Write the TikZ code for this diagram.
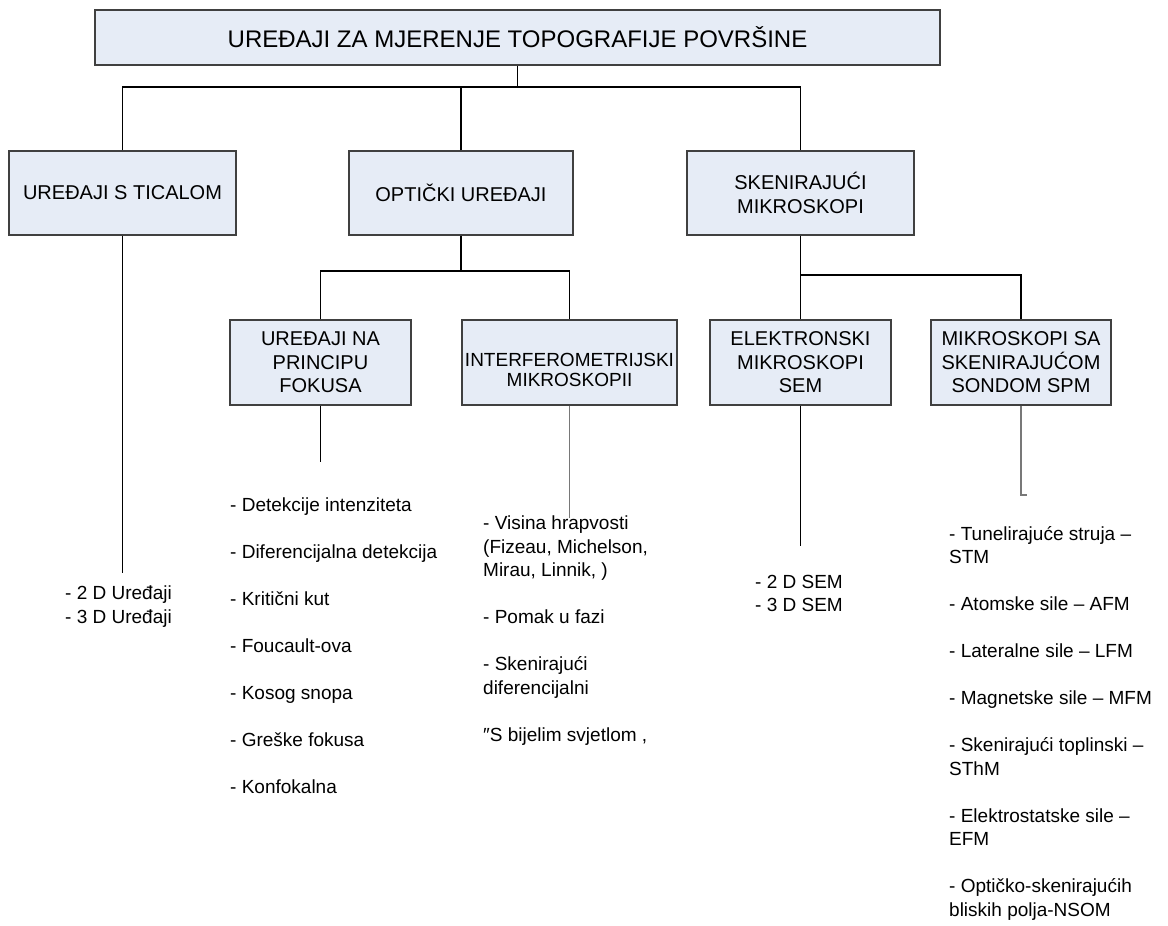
\documentclass[tikz,border=0pt]{standalone}
\usepackage{fontspec}
\setmainfont{Liberation Sans}
\definecolor{okvirfill}{RGB}{230,236,246}
\definecolor{okvirrub}{RGB}{64,64,64}
\definecolor{sivalinija}{RGB}{120,120,120}

\begin{document}
\begin{tikzpicture}[x=1pt,y=-1pt,
  okvir/.style={draw=okvirrub,fill=okvirfill,line width=1.3pt,align=center,inner sep=0pt,
    minimum height=84pt,font=\fontsize{20}{23.5}\selectfont},
  veza/.style={line width=1.2pt},
  sivaveza/.style={line width=1.3pt,draw=sivalinija},
  popis/.style={align=left,anchor=north west,inner sep=0pt,font=\fontsize{19}{23.5}\selectfont}]

\useasboundingbox (0,0) rectangle (1168,926);

% okviri
\node[okvir,minimum width=845pt,minimum height=55pt,font=\fontsize{24}{28}\selectfont] (naslov) at (517.5,37.5) {UREĐAJI ZA MJERENJE TOPOGRAFIJE POVRŠINE};

\node[okvir,minimum width=227pt] (ticalo) at (122.5,193) {UREĐAJI S TICALOM};
\node[okvir,minimum width=224pt] (optika) at (461,193) {OPTIČKI UREĐAJI};
\node[okvir,minimum width=227pt] (skener) at (800.5,193) {SKENIRAJUĆI\\MIKROSKOPI};

\node[okvir,minimum width=181pt,minimum height=85pt] (fokus) at (320.5,362.5) {UREĐAJI NA\\PRINCIPU\\FOKUSA};
\node[okvir,minimum width=215pt,minimum height=85pt,font=\fontsize{19}{20}\selectfont] (interf) at (569.5,362.5) {\rule{0pt}{28pt}INTERFEROMETRIJSKI\\MIKROSKOPII};
\node[okvir,minimum width=181pt,minimum height=85pt] (elektron) at (800.5,362.5) {ELEKTRONSKI\\MIKROSKOPI\\SEM};
\node[okvir,minimum width=180pt,minimum height=85pt] (spm) at (1021,362.5) {MIKROSKOPI SA\\SKENIRAJUĆOM\\SONDOM SPM};

% grananja
\coordinate (grana1) at (517.5,87);
\coordinate (grana2) at (461,271);
\coordinate (grana3) at (800.5,275);

\draw[veza] (naslov.south) -- (grana1);
\draw[veza] (ticalo.north) |- (grana1) -| (skener.north);
\draw[veza] (optika.north) -- (optika.north |- grana1);

\draw[veza] (optika.south) -- (grana2);
\draw[veza] (fokus.north) |- (grana2) -| (interf.north);

\draw[veza] (skener.south) -- (elektron.north);
\draw[veza] (grana3) -| (spm.north);

% krajevi
\coordinate (kraj1) at (122.5,573);
\coordinate (kraj2) at (320.5,462);
\coordinate (kraj3) at (569.5,518);
\coordinate (kraj4) at (800.5,546);
\coordinate (kraj5) at (1021,495);

\draw[veza] (ticalo.south) -- (kraj1);
\draw[veza] (fokus.south) -- (kraj2);
\draw[sivaveza] (interf.south) -- (kraj3);
\draw[veza] (elektron.south) -- (kraj4);
\draw[sivaveza] (spm.south) -- (kraj5) -- ++(6,0);

% popisi
\node[popis] (popis1) at (65,586) {- 2 D Uređaji\\- 3 D Uređaji};

\node[popis] (popis2) at (230,498) {- Detekcije intenziteta\\[23.5pt]
  - Diferencijalna detekcija\\[23.5pt]
  - Kritični kut\\[23.5pt]
  - Foucault-ova\\[23.5pt]
  - Kosog snopa\\[23.5pt]
  - Greške fokusa\\[23.5pt]
  - Konfokalna};

\node[popis] (popis3) at (483,516) {- Visina hrapvosti\\(Fizeau, Michelson,\\Mirau, Linnik, )\\[23.5pt]
  - Pomak u fazi\\[23.5pt]
  - Skenirajući\\diferencijalni\\[23.5pt]
  ″S bijelim svjetlom ,};

\node[popis] (popis4) at (755,575) {- 2 D SEM\\- 3 D SEM};

\node[popis] (popis5) at (949,526) {- Tunelirajuće struja –\\STM\\[23.5pt]
  - Atomske sile – AFM\\[23.5pt]
  - Lateralne sile – LFM\\[23.5pt]
  - Magnetske sile – MFM\\[23.5pt]
  - Skenirajući toplinski –\\SThM\\[23.5pt]
  - Elektrostatske sile –\\EFM\\[23.5pt]
  - Optičko-skenirajućih\\bliskih polja-NSOM};

\end{tikzpicture}
\end{document}
